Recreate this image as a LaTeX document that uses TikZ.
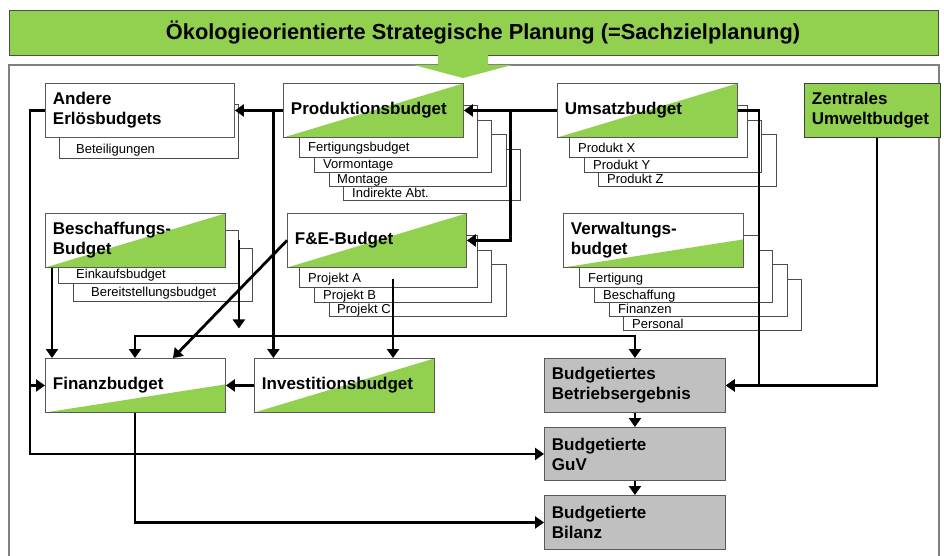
\documentclass[tikz,border=0pt]{standalone}
\usepackage{fontspec}
\setmainfont{Liberation Sans}
\usetikzlibrary{arrows.meta,calc}

\definecolor{leaf}{HTML}{92D050}
\definecolor{result}{HTML}{C0C0C0}

% sub-budget tab frame
\newcommand\subframe[4]{\draw[subframe] (#1,#2) rectangle (#3,#4);}
% caption of a tab: name, x, baseline y, text
\newcommand\subcaption[4]{\node[subtext] (#1) at (#2,#3) {#4};}

\tikzset{
  x=1pt, y=-1pt,
  box/.style={draw=black!65, line width=0.9pt, fill=white, anchor=north west,
    inner xsep=7.5pt, inner ysep=0pt, align=left,
    font=\fontsize{17}{20}\selectfont\bfseries,
    minimum height=54pt, text width={#1-15pt}},
  box/.default=180pt,
  wedge/.style={path picture={\fill[leaf]
    (path picture bounding box.south west) --
    (path picture bounding box.south east) --
    ($(path picture bounding box.south east)!#1!(path picture bounding box.north east)$) -- cycle;}},
  wedge/.default=1,
  resultbox/.style={box=181pt, fill=result},
  subframe/.style={draw=black!70, line width=0.8pt, fill=white},
  subtext/.style={anchor=base west, inner sep=0pt, font=\fontsize{13}{15}\selectfont},
  conn/.style={line width=2.8pt, black},
  arr/.style={conn, -{Triangle[length=9pt,width=12pt]}},
  arr2/.style={conn, {Triangle[length=9pt,width=12pt]}-{Triangle[length=9pt,width=12pt]}},
  frame/.style={draw=black!50, line width=1.5pt},
}

\begin{document}
\begin{tikzpicture}
\useasboundingbox[fill=white] (0,0) rectangle (944,555);

% planning frame
\draw[frame] (9,556) -- (9,65) -- (939,65) -- (939,556);

% headline bar and the wide arrow into the frame
\node[draw=black!70, line width=1pt, fill=leaf, minimum width=929pt, minimum height=45pt,
  inner sep=0pt, font=\fontsize{21.8}{24}\selectfont\bfseries] (title) at (473.5,32.5)
  {\hspace*{19pt}Ökologieorientierte Strategische Planung (=Sachzielplanung)};
\fill[leaf] (438,55) -- (488,55) -- (488,65) -- (512,65) -- (463,78)
  -- (414,65) -- (438,65) -- cycle;

% sub-budget tabs behind the main budgets, back to front
\subframe{59}{104}{238}{158}
\subframe{343}{149}{520}{200}
\subframe{329}{134}{506}{186}
\subframe{314}{120}{491}{172}
\subframe{299}{105}{477}{157}
\subframe{598}{134}{776}{186}
\subframe{584}{120}{761}{172}
\subframe{569}{105}{747}{157}
\subframe{73}{248}{252}{301}
\subframe{58}{230}{238}{283}
\subframe{329}{264}{506}{316}
\subframe{314}{250}{491}{302}
\subframe{299}{235}{477}{287}
\subframe{623}{279}{801}{330}
\subframe{609}{264}{787}{316}
\subframe{594}{250}{772}{302}
\subframe{579}{235}{758}{287}

% tab captions, set over all the frames
\subcaption{beteil}{76}{153}{Beteiligungen}
\subcaption{fert}{308}{151.5}{Fertigungsbudget}
\subcaption{vormont}{323}{168.5}{Vormontage}
\subcaption{mont}{337}{183}{Montage}
\subcaption{indir}{352}{197.5}{Indirekte Abt.}
\subcaption{px}{578}{152}{Produkt X}
\subcaption{py}{593}{169}{Produkt Y}
\subcaption{pz}{607}{183.5}{Produkt Z}
\subcaption{einkauf}{76}{278}{Einkaufsbudget}
\subcaption{bereit}{91}{296}{Bereitstellungsbudget}
\subcaption{pa}{308}{282}{Projekt A}
\subcaption{pb}{323}{299}{Projekt B}
\subcaption{pc}{337}{313.5}{Projekt C}
\subcaption{vfert}{588}{282}{Fertigung}
\subcaption{vbesch}{603}{299}{Beschaffung}
\subcaption{vfin}{618}{313}{Finanzen}
\subcaption{vpers}{632}{328}{Personal}

% main budgets
\node[box=189pt] (andere) at (45,83) {Andere\\Erlösbudgets};
\node[box, wedge] (prod) at (283,83) {Produktionsbudget};
\node[box, wedge] (umsatz) at (557,83) {Umsatzbudget};
\node[box=136pt, fill=leaf, draw=black!75] (zentral) at (804,83) {Zentrales\\Umweltbudget};
\node[box, wedge] (besch) at (45,213) {Beschaffungs-\\Budget};
\node[box=179pt, wedge] (fe) at (287,213) {F\&E-Budget};
\node[box, wedge=0.52] (verw) at (563,213) {Verwaltungs-\\budget};
\node[box, wedge=0.52] (finanz) at (45,358) {Finanzbudget};
\node[box, wedge] (invest) at (254,358) {Investitionsbudget};

% budgeted results
\node[resultbox] (betrieb) at (544,358) {Budgetiertes\\Betriebsergebnis};
\node[resultbox, minimum height=53pt] (guv) at (544,427) {Budgetierte\\GuV};
\node[resultbox] (bilanz) at (544,495) {Budgetierte\\Bilanz};

% junction points of the connectors
\coordinate (ubranch) at ($(prod.east)!0.5!(umsatz.west)$);
\coordinate (pdrop) at ($(andere.east)!0.8!(prod.west)$);
\coordinate (lrail) at ($(andere.west)+(-15,0)$);
\coordinate (bhook) at ($(besch.east)+(13,0)$);
\coordinate (fedrop) at (393,279);

% connectors
\draw[arr] (umsatz.west) -- (prod.east);
\draw[arr] (ubranch) |- (fe.east);
\draw[arr] (prod.west) -- (andere.east);
\draw[arr] (pdrop) -- (pdrop |- invest.north);
\draw[arr] (andere.west) -- (lrail) |- (guv.west);
\draw[arr] (lrail |- finanz.west) -- (finanz.west);
\draw[arr] ($(besch.south west)+(7,0)$) -- ($(finanz.north west)+(7,0)$);
\draw[arr] (bhook) -- ++(0,88);
\draw[arr] (fe.west) -- ($(finanz.north west)+(128,0)$);
\draw[arr] (fedrop) -- (fedrop |- invest.north);
\draw[arr2] ($(finanz.north west)+(90,0)$) -- ++(0,-22) -| (betrieb.north);
\draw[arr] (invest.west) -- (finanz.east);
\draw[arr] (umsatz.east) -- ++(21,0) |- (betrieb.east);
\draw[arr] ($(zentral.south west)+(73,0)$) |- (betrieb.east);
\draw[arr] ($(finanz.south west)+(90,0)$) |- (bilanz.west);
\draw[arr] (betrieb.south) -- (guv.north);
\draw[arr] (guv.south) -- (bilanz.north);
\end{tikzpicture}
\end{document}
